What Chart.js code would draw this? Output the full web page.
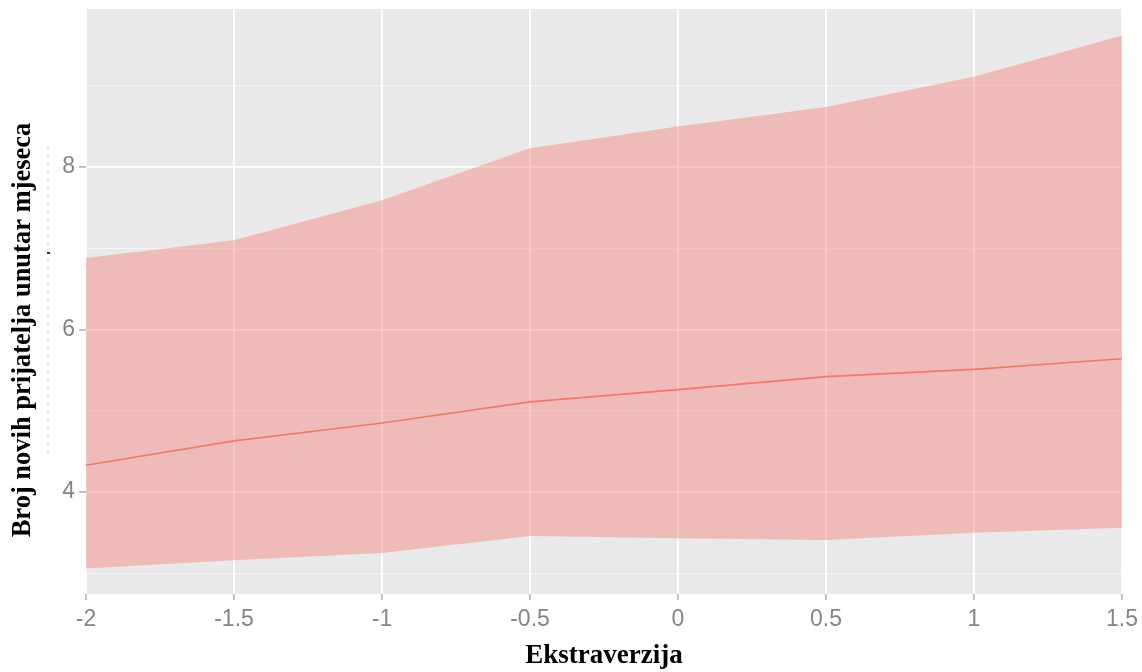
<!DOCTYPE html>
<html>
<head>
<meta charset="utf-8">
<script src="https://cdn.jsdelivr.net/npm/chart.js@4"></script>
<style>
  html, body { margin: 0; padding: 0; background: #fff; }
</style>
</head>
<body>
<canvas id="myChart" width="1142" height="672"></canvas>
<script>
// values
var xValues = [-2, -1.5, -1, -0.5, 0, 0.5, 1, 1.5];
var fitValues = [4.33, 4.63, 4.85, 5.11, 5.26, 5.42, 5.51, 5.64];
var upperValues = [6.88, 7.10, 7.59, 8.23, 8.50, 8.74, 9.11, 9.62];
var lowerValues = [3.06, 3.16, 3.25, 3.46, 3.43, 3.41, 3.50, 3.56];
var xTicks = [-2, -1.5, -1, -0.5, 0, 0.5, 1, 1.5];
var yMajorTicks = [4, 6, 8];
var yMinorTicks = [3, 5, 7, 9];

const ctx = document.getElementById('myChart').getContext('2d');

const toPoints = (ys) => xValues.map((x, i) => ({x: x, y: ys[i]}));
const isMajorY = (v) => yMajorTicks.indexOf(v) !== -1;

// grey ggplot panel behind everything
const panelBg = {
  id: 'panelBg',
  beforeDraw(chart) {
    const a = chart.chartArea;
    const c = chart.ctx;
    c.save();
    c.fillStyle = '#E9E9E9';
    c.fillRect(a.left, a.top, a.right - a.left, a.bottom - a.top);
    c.restore();
  }
};

// y axis title sits a bit lower than centre in the original
const yTitle = {
  id: 'yTitle',
  afterDraw(chart) {
    const c = chart.ctx;
    c.save();
    // faint dashed mark left of the tick labels
    c.strokeStyle = 'rgba(120,120,120,0.35)';
    c.lineWidth = 1;
    c.setLineDash([4, 4]);
    c.beginPath();
    c.moveTo(48, 145);
    c.lineTo(48, 455);
    c.stroke();
    c.setLineDash([]);
    c.fillStyle = '#333';
    c.fillRect(47, 252, 3, 2);
    c.translate(23, 330);
    c.rotate(-Math.PI / 2);
    c.fillStyle = '#000';
    c.font = 'bold 26.5px "Liberation Serif", "Times New Roman", serif';
    c.textAlign = 'center';
    c.textBaseline = 'middle';
    c.fillText('Broj novih prijatelja unutar mjeseca', 0, 0);
    c.restore();
  }
};

let myChart = new Chart(ctx, {
  type: 'line',
  data: {
    datasets: [
      {
        label: 'upper',
        data: toPoints(upperValues),
        borderWidth: 0,
        backgroundColor: 'rgba(248,118,109,0.4)',
        fill: '+1',
        pointRadius: 0,
        tension: 0
      },
      {
        label: 'lower',
        data: toPoints(lowerValues),
        borderWidth: 0,
        fill: false,
        pointRadius: 0,
        tension: 0
      },
      {
        label: 'fit',
        data: toPoints(fitValues),
        borderColor: '#F8766D',
        borderWidth: 1.6,
        fill: false,
        pointRadius: 0,
        tension: 0
      }
    ]
  },
  options: {
    responsive: false,
    animation: false,
    layout: { padding: { left: 0, right: 20, top: 9, bottom: 0 } },
    plugins: {
      legend: { display: false },
      tooltip: { enabled: false }
    },
    scales: {
      x: {
        type: 'linear',
        min: -2,
        max: 1.5,
        afterBuildTicks: (scale) => { scale.ticks = xTicks.map(v => ({value: v})); },
        afterFit: (scale) => { scale.height = 78; scale.paddingLeft = 0; scale.paddingRight = 0; },
        border: { display: false },
        grid: {
          color: '#FFFFFF',
          lineWidth: 1.8,
          drawTicks: true,
          tickLength: 6,
          tickColor: '#9A9A9A',
          tickWidth: 1.2
        },
        ticks: {
          padding: 6,
          color: '#858585',
          font: { family: 'Arial, "Liberation Sans", sans-serif', size: 23 },
          callback: (v) => String(v)
        },
        title: {
          display: true,
          text: 'Ekstraverzija',
          color: '#000',
          font: { family: '"Liberation Serif", "Times New Roman", serif', size: 27, weight: 'bold' },
          padding: { top: 0, bottom: 0 }
        }
      },
      y: {
        type: 'linear',
        min: 2.745,
        max: 9.945,
        afterBuildTicks: (scale) => {
          scale.ticks = yMinorTicks.concat(yMajorTicks).sort((a, b) => a - b).map(v => ({value: v}));
        },
        afterFit: (scale) => { scale.width = 86; scale.paddingTop = 0; scale.paddingBottom = 0; },
        border: { display: false },
        grid: {
          color: (c) => isMajorY(c.tick.value) ? '#FFFFFF' : 'rgba(255,255,255,0.6)',
          lineWidth: (c) => isMajorY(c.tick.value) ? 1.8 : 1,
          drawTicks: true,
          tickLength: 7,
          tickColor: (c) => isMajorY(c.tick.value) ? '#9A9A9A' : 'rgba(0,0,0,0)',
          tickWidth: 1.2
        },
        ticks: {
          padding: 4,
          color: '#858585',
          font: { family: 'Arial, "Liberation Sans", sans-serif', size: 23 },
          callback: (v) => isMajorY(v) ? String(v) : ''
        }
      }
    }
  },
  plugins: [panelBg, yTitle]
});
</script>
</body>
</html>
